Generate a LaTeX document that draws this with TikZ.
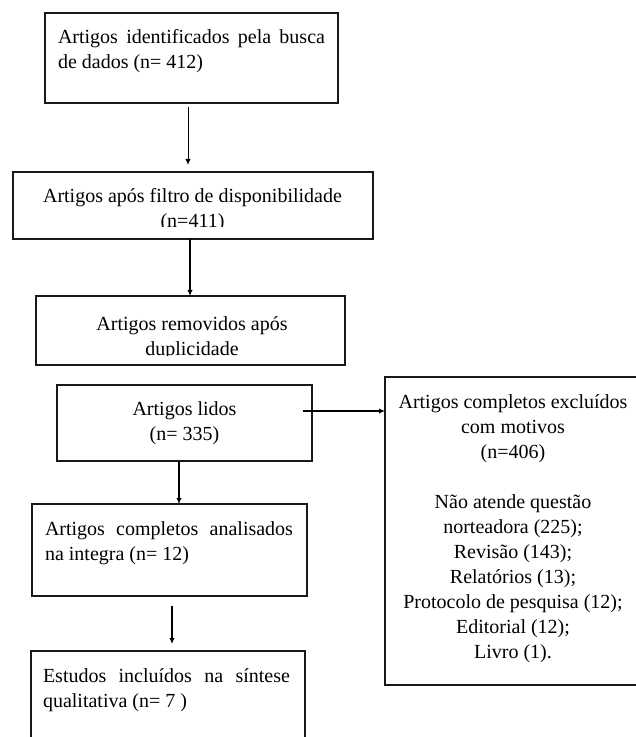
\documentclass[tikz,border=0pt]{standalone}
\usepackage{fontspec}
\setmainfont{Liberation Serif}
\usetikzlibrary{arrows.meta}
\begin{document}
\begin{tikzpicture}[x=0.75pt,y=-0.75pt,
  box/.style={draw=black!90, line width=1.5pt, inner sep=0pt, outer sep=0pt, anchor=north west},
  txt/.style={inner sep=0pt, outer sep=0pt, font=\fontsize{15}{18.75}\selectfont, text=black},
  arr/.style={draw=black, line width=0.9pt, -{Latex[length=4.5pt,width=4pt]}}]
\useasboundingbox (0,0) rectangle (635,737);
\fill[white] (0,0) rectangle (635,737);

% boxes
\node[box, minimum width=219.75pt, minimum height=67.5pt] (b1) at (45,13) {};
\node[box, minimum width=270pt, minimum height=50.25pt] (b2) at (13,172) {};
\node[box, minimum width=231.75pt, minimum height=51.75pt] (b3) at (36,296) {};
\node[box, minimum width=191.25pt, minimum height=57pt] (b4) at (57,385) {};
\node[box, minimum width=206.25pt, minimum height=69pt] (b5) at (32,504) {};
\node[box, minimum width=205.5pt, minimum height=70.5pt] (b6) at (31,651) {};
\node[box, minimum width=196pt, minimum height=231pt] (br) at (385,377) {};

% texts
\node[txt, anchor=base west] (t1) at (58,44) {\parbox[t]{200.25pt}{\makebox[\linewidth][s]{Artigos identificados pela busca}\\de dados (n= 412)}};
\begin{scope}
  \clip (b2.north west) rectangle ([yshift=9pt]b2.south east);
  \node[txt, anchor=base] (t2) at (192.5,203) {\parbox[t]{270pt}{\centering Artigos após filtro de disponibilidade\\(n=411)}};
\end{scope}
\begin{scope}
  \clip (b3.north west) rectangle ([yshift=7.5pt]b3.south east);
  \node[txt, anchor=base] (t3) at (192,330) {\parbox[t]{220pt}{\centering Artigos removidos após\\duplicidade}};
\end{scope}
\node[txt, anchor=base] (t4) at (184.5,415) {\parbox[t]{180pt}{\centering Artigos lidos\\(n= 335)}};
\node[txt, anchor=base west] (t5) at (45,535) {\parbox[t]{186pt}{\makebox[\linewidth][s]{Artigos completos analisados}\\na integra (n= 12)}};
\node[txt, anchor=base west] (t6) at (43,682) {\parbox[t]{185.25pt}{\makebox[\linewidth][s]{Estudos incluídos na síntese}\\qualitativa (n= 7 )}};
\node[txt, anchor=base] (tr) at (513,408) {\parbox[t]{190pt}{\centering Artigos completos excluídos\\com motivos\\(n=406)\\[18.75pt]Não atende questão\\norteadora (225);\\Revisão (143);\\Relatórios (13);\\Protocolo de pesquisa (12);\\Editorial (12);\\Livro (1).}};

% connectors
\coordinate (s1) at ([shift={(-3.5,4)}]b1.south);
\coordinate (e1) at ([shift={(-5,-7)}]b2.north);
\draw[arr, line width=0.75pt] (s1) -- (e1);

\coordinate (s2) at ([xshift=-2.25pt]b2.south);
\draw[arr, line width=1.1pt] (s2) -- (s2 |- b3.north);

\coordinate (s3) at ([xshift=-4.125pt]b4.south);
\draw[arr, line width=1.3pt] (s3) -- (s3 |- b5.north);

\coordinate (s4) at ([shift={(2.5,10)}]b5.south);
\coordinate (e4) at ([shift={(4,-7)}]b6.north);
\draw[arr, line width=0.9pt] (s4) -- (e4);

\coordinate (s5) at ([shift={(-9,-12)}]b4.east);
\draw[arr, line width=1pt] (s5) -- (s5 -| br.west);
\end{tikzpicture}
\end{document}
